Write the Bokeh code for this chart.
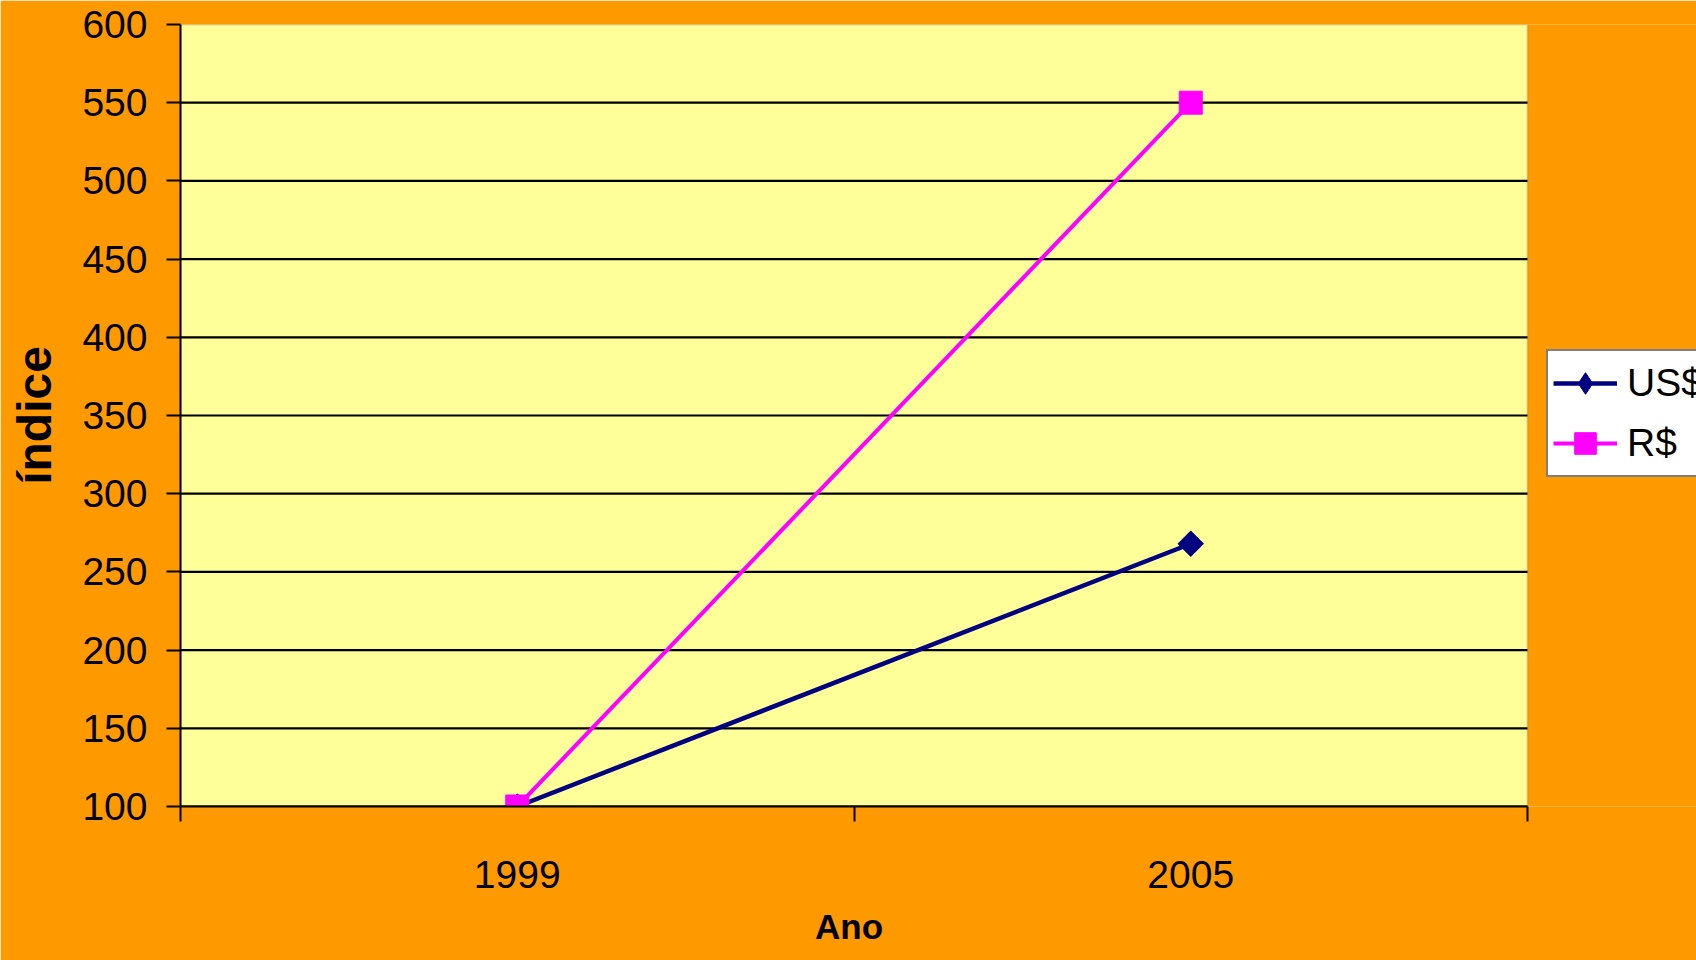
import numpy as np
from bokeh.plotting import figure
from bokeh.models import BoxAnnotation, FixedTicker, Legend, LegendItem, Range1d, Title
from bokeh.embed import file_html
from bokeh.resources import INLINE

# Index values (1999 = 100)
years = ["1999", "2005"]
usd = [100, 268]
brl = [100, 550]
y_ticks = [100, 150, 200, 250, 300, 350, 400, 450, 500, 550, 600]
x_title = "Ano"
y_title = "índice"

FONT = "Liberation Sans"
W, H = 1696, 960
LEFT, TOP, BOTTOM = 180, 24, 154
AREA_W = 1347  # width of the yellow plotting area in pixels
ORANGE = "#FF9900"

# categories sit in the middle of their slots; slot boundaries carry the tick marks
n = len(years)
x_pos = [i + 0.5 for i in range(n)]
x_bounds = list(range(n + 1))

# the frame runs to the right edge so the legend can sit beside the plotting area
x_end = n * (W - LEFT) / AREA_W

p = figure(
    width=W, height=H,
    output_backend="svg", toolbar_location=None,
    x_range=Range1d(0, x_end), y_range=Range1d(y_ticks[0], y_ticks[-1]),
    min_border_left=LEFT, min_border_right=0,
    min_border_top=TOP, min_border_bottom=BOTTOM,
)
p.background_fill_color = ORANGE
p.border_fill_color = ORANGE
p.outline_line_color = None
p.xgrid.visible = False
p.ygrid.visible = False

# plotting area
p.add_layout(BoxAnnotation(left=x_bounds[0], right=x_bounds[-1],
                           bottom=y_ticks[0], top=y_ticks[-1],
                           fill_color="#FFFF99", fill_alpha=1.0,
                           line_color="#808080", line_width=2,
                           level="underlay"))

# horizontal gridlines (the top edge keeps the grey border)
grid_y = y_ticks[:-1]
p.segment(x0=[x_bounds[0]] * len(grid_y), x1=[x_bounds[-1]] * len(grid_y),
          y0=grid_y, y1=grid_y, line_color="black", line_width=2.2)

# x axis
xa = p.xaxis[0]
xa.bounds = (x_bounds[0], x_bounds[-1])
xa.ticker = FixedTicker(ticks=x_pos, minor_ticks=x_bounds)
xa.major_label_overrides = {x: y for x, y in zip(x_pos, years)}
xa.major_tick_line_color = None
xa.major_tick_out = 15
xa.major_tick_in = 0
xa.minor_tick_line_color = "black"
xa.minor_tick_line_width = 2
xa.minor_tick_out = 15
xa.minor_tick_in = 0
xa.axis_line_color = "black"
xa.axis_line_width = 2
xa.major_label_text_font = FONT
xa.major_label_text_font_size = "39px"
xa.major_label_text_color = "black"
xa.major_label_standoff = 39

# x title, centred under the plotting area rather than the whole frame
TITLE_PX = 35
title_w = 1.944 * TITLE_PX  # bold "Ano" advance width
p.add_layout(Title(text=x_title, align="left",
                   offset=AREA_W / 2 - title_w / 2 - 5,
                   text_font=FONT, text_font_size=f"{TITLE_PX}px",
                   text_font_style="bold", text_color="black",
                   standoff=28), "below")

# y axis
ya = p.yaxis[0]
ya.ticker = FixedTicker(ticks=y_ticks)
ya.major_tick_out = 14
ya.major_tick_in = 0
ya.major_tick_line_color = "black"
ya.major_tick_line_width = 2
ya.minor_tick_line_color = None
ya.axis_line_color = "black"
ya.axis_line_width = 2
ya.major_label_text_font = FONT
ya.major_label_text_font_size = "39px"
ya.major_label_text_color = "black"
ya.major_label_standoff = 19
ya.axis_label = y_title
ya.axis_label_text_font = FONT
ya.axis_label_text_font_size = "48px"
ya.axis_label_text_font_style = "bold"
ya.axis_label_text_color = "black"
ya.axis_label_standoff = 18

# series
NAVY, MAGENTA = "#000080", "#FF00FF"
l_usd = p.line(x_pos, usd, line_color=NAVY, line_width=4.5)
# upright diamond (used by the legend swatch) sits under the wider rotated square
k_usd = p.scatter(x_pos, usd, marker="diamond", size=24,
                  fill_color=NAVY, line_color=NAVY)
m_usd = p.scatter(x_pos, usd, marker="square", angle=np.pi / 4, size=18,
                  fill_color=NAVY, line_color=NAVY)
l_brl = p.line(x_pos, brl, line_color=MAGENTA, line_width=4)
m_brl = p.scatter(x_pos, brl, marker="square", size=23,
                  fill_color=MAGENTA, line_color=MAGENTA)

legend = Legend(
    items=[
        LegendItem(label="US$", renderers=[l_usd, k_usd]),
        LegendItem(label="R$", renderers=[l_brl, m_brl]),
    ],
    location=(1546 - LEFT, H - BOTTOM - 477),
    margin=0,
    padding=5,
    spacing=6,
    glyph_width=64,
    glyph_height=54,
    label_standoff=10,
    label_text_font=FONT,
    label_text_font_size="39px",
    label_text_color="black",
    border_line_color="black",
    border_line_width=2,
    background_fill_color="white",
    background_fill_alpha=1.0,
)
p.add_layout(legend, "center")

open("out.html", "w").write(file_html(p, INLINE))
